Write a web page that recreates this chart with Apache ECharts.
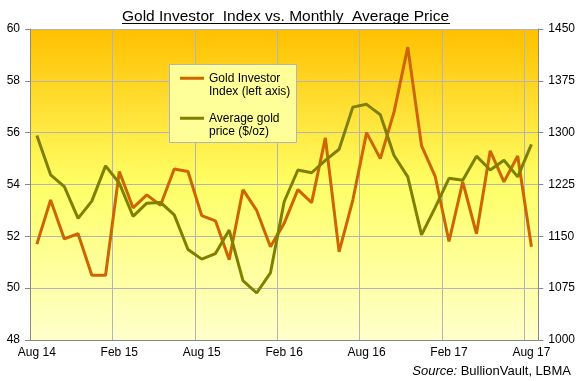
<!DOCTYPE html>
<html>
<head>
<meta charset="utf-8">
<script src="https://cdn.jsdelivr.net/npm/echarts@6/dist/echarts.min.js"></script>
<style>
html,body{margin:0;padding:0;background:#fff;}
#c{width:578px;height:381px;}
</style>
</head>
<body>
<div id="c"></div>
<script>
var months = ['Aug 14','Sep 14','Oct 14','Nov 14','Dec 14','Jan 15','Feb 15','Mar 15','Apr 15','May 15','Jun 15','Jul 15',
  'Aug 15','Sep 15','Oct 15','Nov 15','Dec 15','Jan 16','Feb 16','Mar 16','Apr 16','May 16','Jun 16','Jul 16',
  'Aug 16','Sep 16','Oct 16','Nov 16','Dec 16','Jan 17','Feb 17','Mar 17','Apr 17','May 17','Jun 17','Jul 17','Aug 17'];
var investorIndex = [51.7,53.4,51.9,52.1,50.5,50.5,54.5,53.1,53.6,53.2,54.6,54.5,
  52.8,52.6,51.1,53.8,53.0,51.6,52.5,53.8,53.3,55.8,51.4,53.4,
  56.0,55.0,56.8,59.3,55.5,54.3,51.8,54.1,52.1,55.3,54.1,55.1,51.6];
var goldPrice = [1296,1239,1222,1176,1201,1252,1227,1179,1198,1199,1181,1131,
  1117,1125,1159,1086,1068,1097,1200,1246,1242,1260,1276,1337,
  1341,1326,1267,1236,1152,1192,1234,1231,1266,1246,1260,1236,1283];
var leftAxis = {min:48, max:60, interval:2};
var rightAxis = {min:1000, max:1450, interval:75};
var seriesNames = ['Gold Investor\nIndex (left axis)', 'Average gold\nprice ($/oz)'];
var titleText = 'Gold Investor  Index vs. Monthly  Average Price';

var FONT = '"Liberation Sans", Arial, sans-serif';
// legend icon: a 3px line aligned with the first text line, in a 24x28 box
var LEGEND_ICON = 'path://M0,0L0.01,0L0.01,0.01Z M0,5.7L24,5.7L24,8.7L0,8.7Z M0,28L0.01,28L0.01,27.99Z';

var chart = echarts.init(document.getElementById('c'));
chart.setOption({
  animation: false,
  backgroundColor: '#ffffff',
  textStyle: {fontFamily: FONT},
  title: [{
    text: titleText,
    left: 122,
    top: 9,
    padding: 0,
    textStyle: {fontFamily: FONT, fontSize: 15.5, fontWeight: 'normal', color: '#000'}
  }, {
    text: '{i|Source:} BullionVault, LBMA',
    right: 7,
    bottom: 3,
    padding: 0,
    textStyle: {fontFamily: FONT, fontSize: 13, fontWeight: 'normal', color: '#000',
      rich: {i: {fontFamily: FONT, fontSize: 13, fontStyle: 'italic', color: '#000'}}}
  }],
  graphic: [{
    type: 'line', z: 10,
    shape: {x1: 122, y1: 23.5, x2: 450, y2: 23.5},
    style: {stroke: '#000', lineWidth: 1}
  }, {
    type: 'rect', z: 3,
    shape: {x: 169.5, y: 64.5, width: 127, height: 78},
    style: {fill: '#FFFF99', stroke: '#B4B4B4', lineWidth: 1}
  }],
  legend: {
    orient: 'vertical',
    left: 180,
    top: 71,
    padding: 0,
    itemGap: 12,
    itemWidth: 24,
    itemHeight: 28,
    z: 5,
    icon: LEGEND_ICON,
    textStyle: {fontFamily: FONT, fontSize: 12, lineHeight: 13.5, color: '#000'},
    data: seriesNames
  },
  grid: {
    left: 30, right: 39, top: 29, bottom: 41,
    show: true,
    borderWidth: 0,
    backgroundColor: {
      type: 'linear', x: 0, y: 0, x2: 0, y2: 1,
      colorStops: [
        {offset: 0, color: '#FFC000'},
        {offset: 0.5, color: '#FFFF66'},
        {offset: 1, color: '#FFFFCC'}
      ]
    }
  },
  xAxis: {
    type: 'category',
    data: months,
    boundaryGap: true,
    axisLine: {lineStyle: {color: '#888', width: 1}},
    axisTick: {interval: 5, length: 5, lineStyle: {color: '#888'}},
    axisLabel: {interval: 5, margin: 7, fontFamily: FONT, fontSize: 12, color: '#000'},
    splitLine: {show: true, interval: 5, lineStyle: {color: '#B4B4B4', width: 1}}
  },
  yAxis: [{
    type: 'value',
    min: leftAxis.min, max: leftAxis.max, interval: leftAxis.interval,
    axisLine: {show: true, lineStyle: {color: '#888'}},
    axisTick: {show: true, length: 5, lineStyle: {color: '#888'}},
    axisLabel: {margin: 10, fontFamily: FONT, fontSize: 12, color: '#000'},
    splitLine: {show: true, lineStyle: {color: '#B4B4B4', width: 1}}
  }, {
    type: 'value',
    min: rightAxis.min, max: rightAxis.max, interval: rightAxis.interval,
    position: 'right',
    axisLine: {show: true, lineStyle: {color: '#888'}},
    axisTick: {show: true, length: 5, lineStyle: {color: '#888'}},
    axisLabel: {margin: 10, fontFamily: FONT, fontSize: 12, color: '#000',
      formatter: function (v) { return String(v); }},
    splitLine: {show: false}
  }],
  series: [{
    name: seriesNames[0],
    type: 'line',
    yAxisIndex: 0,
    data: investorIndex,
    symbol: 'none',
    color: '#CD6500',
    lineStyle: {color: '#CD6500', width: 3},
    z: 2
  }, {
    name: seriesNames[1],
    type: 'line',
    yAxisIndex: 1,
    data: goldPrice,
    symbol: 'none',
    color: '#808000',
    lineStyle: {color: '#808000', width: 3},
    z: 3
  }]
});
</script>
</body>
</html>
